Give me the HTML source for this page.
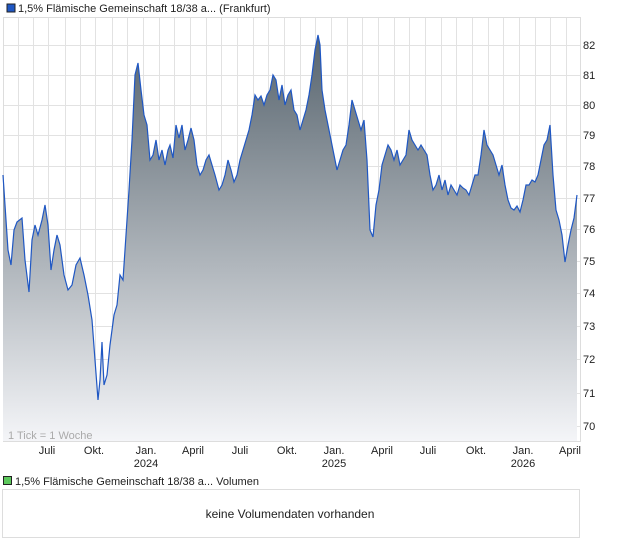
<!DOCTYPE html><html><head><meta charset="utf-8"><style>body{margin:0;background:#fff;font-family:"Liberation Sans",sans-serif}</style></head><body>
<svg width="620" height="546" xmlns="http://www.w3.org/2000/svg" font-family="Liberation Sans, sans-serif">
<defs><linearGradient id="g" x1="0" y1="0" x2="0" y2="1" gradientUnits="userSpaceOnUse" x1b="0"><stop offset="0" stop-color="#55626c"/><stop offset="1" stop-color="#f3f4f7"/></linearGradient>
<linearGradient id="g2" x1="0" y1="30" x2="0" y2="441" gradientUnits="userSpaceOnUse"><stop offset="0" stop-color="#55626c"/><stop offset="1" stop-color="#f4f5f8"/></linearGradient></defs>
<rect x="7" y="4" width="8" height="8" fill="#1f57c3" stroke="#222" stroke-width="1"/>
<text x="18" y="12" font-size="11" fill="#222">1,5% Flämische Gemeinschaft 18/38 a... (Frankfurt)</text>
<rect x="3.5" y="17.5" width="577" height="424" fill="#fff" stroke="#ddd"/>
<g stroke="#e2e2e2" stroke-width="1">
<line x1="18.5" y1="18" x2="18.5" y2="441"/><line x1="33.5" y1="18" x2="33.5" y2="441"/><line x1="48.5" y1="18" x2="48.5" y2="441"/><line x1="65.5" y1="18" x2="65.5" y2="441"/><line x1="80.5" y1="18" x2="80.5" y2="441"/><line x1="95.5" y1="18" x2="95.5" y2="441"/><line x1="112.5" y1="18" x2="112.5" y2="441"/><line x1="127.5" y1="18" x2="127.5" y2="441"/><line x1="143.5" y1="18" x2="143.5" y2="441"/><line x1="159.5" y1="18" x2="159.5" y2="441"/><line x1="174.5" y1="18" x2="174.5" y2="441"/><line x1="190.5" y1="18" x2="190.5" y2="441"/><line x1="206.5" y1="18" x2="206.5" y2="441"/><line x1="221.5" y1="18" x2="221.5" y2="441"/><line x1="237.5" y1="18" x2="237.5" y2="441"/><line x1="253.5" y1="18" x2="253.5" y2="441"/><line x1="268.5" y1="18" x2="268.5" y2="441"/><line x1="284.5" y1="18" x2="284.5" y2="441"/><line x1="300.5" y1="18" x2="300.5" y2="441"/><line x1="315.5" y1="18" x2="315.5" y2="441"/><line x1="331.5" y1="18" x2="331.5" y2="441"/><line x1="347.5" y1="18" x2="347.5" y2="441"/><line x1="362.5" y1="18" x2="362.5" y2="441"/><line x1="378.5" y1="18" x2="378.5" y2="441"/><line x1="394.5" y1="18" x2="394.5" y2="441"/><line x1="409.5" y1="18" x2="409.5" y2="441"/><line x1="425.5" y1="18" x2="425.5" y2="441"/><line x1="441.5" y1="18" x2="441.5" y2="441"/><line x1="456.5" y1="18" x2="456.5" y2="441"/><line x1="472.5" y1="18" x2="472.5" y2="441"/><line x1="488.5" y1="18" x2="488.5" y2="441"/><line x1="503.5" y1="18" x2="503.5" y2="441"/><line x1="519.5" y1="18" x2="519.5" y2="441"/><line x1="535.5" y1="18" x2="535.5" y2="441"/><line x1="550.5" y1="18" x2="550.5" y2="441"/><line x1="566.5" y1="18" x2="566.5" y2="441"/>
<line x1="4" y1="45.5" x2="580" y2="45.5"/><line x1="4" y1="75.5" x2="580" y2="75.5"/><line x1="4" y1="105.5" x2="580" y2="105.5"/><line x1="4" y1="135.5" x2="580" y2="135.5"/><line x1="4" y1="166.5" x2="580" y2="166.5"/><line x1="4" y1="198.5" x2="580" y2="198.5"/><line x1="4" y1="229.5" x2="580" y2="229.5"/><line x1="4" y1="261.5" x2="580" y2="261.5"/><line x1="4" y1="293.5" x2="580" y2="293.5"/><line x1="4" y1="326.5" x2="580" y2="326.5"/><line x1="4" y1="359.5" x2="580" y2="359.5"/><line x1="4" y1="393.5" x2="580" y2="393.5"/><line x1="4" y1="426.5" x2="580" y2="426.5"/>
</g>
<polygon fill="url(#g2)" points="3,441 3,175 8,250 11,265 14,230 17,222 22,218 25,260 29,292 32,240 35,225 38,235 42,220 45,205 48,225 51,270 54,250 57,235 60,245 64,275 68,290 72,285 76,265 80,258 84,275 88,295 92,320 95,360 98,400 100,380 102,342 104,385 107,375 110,345 114,315 117,305 120,275 123,280 126,235 129,190 132,140 135,75 138,63 141,90 144,115 147,125 150,160 153,155 156,140 159,160 162,150 165,165 168,150 170,145 173,158 176,125 179,138 182,125 185,150 188,140 191,128 194,140 197,165 200,175 203,170 206,160 209,155 212,165 215,175 219,190 222,185 225,175 228,160 231,170 234,182 237,175 240,160 243,150 246,140 249,130 252,115 255,95 258,100 261,96 264,105 267,95 270,90 273,75 276,80 279,100 282,85 285,105 288,95 291,90 294,110 297,115 300,130 303,120 306,110 309,95 312,75 315,50 318,35 320,45 322,90 325,110 328,125 331,140 334,155 337,170 340,160 343,150 346,145 349,125 352,100 355,110 358,120 361,130 364,120 367,160 370,230 373,237 376,205 379,190 382,165 385,155 388,145 391,150 394,160 397,150 400,165 403,160 406,155 409,130 412,140 415,145 418,150 421,145 424,150 427,155 430,175 433,190 436,185 439,175 442,190 445,180 448,195 451,185 454,190 457,195 460,185 463,188 466,190 469,195 472,185 475,175 478,175 481,155 484,130 487,145 490,150 493,155 496,165 499,175 502,165 505,185 508,200 511,208 514,210 517,206 520,212 523,200 526,185 529,185 532,180 535,182 538,175 541,160 544,145 547,140 550,125 553,175 556,210 559,220 562,235 565,262 568,245 571,230 574,218 577,195 577,441"/>
<polyline fill="none" stroke="#1f57c3" stroke-width="1.2" points="3,175 8,250 11,265 14,230 17,222 22,218 25,260 29,292 32,240 35,225 38,235 42,220 45,205 48,225 51,270 54,250 57,235 60,245 64,275 68,290 72,285 76,265 80,258 84,275 88,295 92,320 95,360 98,400 100,380 102,342 104,385 107,375 110,345 114,315 117,305 120,275 123,280 126,235 129,190 132,140 135,75 138,63 141,90 144,115 147,125 150,160 153,155 156,140 159,160 162,150 165,165 168,150 170,145 173,158 176,125 179,138 182,125 185,150 188,140 191,128 194,140 197,165 200,175 203,170 206,160 209,155 212,165 215,175 219,190 222,185 225,175 228,160 231,170 234,182 237,175 240,160 243,150 246,140 249,130 252,115 255,95 258,100 261,96 264,105 267,95 270,90 273,75 276,80 279,100 282,85 285,105 288,95 291,90 294,110 297,115 300,130 303,120 306,110 309,95 312,75 315,50 318,35 320,45 322,90 325,110 328,125 331,140 334,155 337,170 340,160 343,150 346,145 349,125 352,100 355,110 358,120 361,130 364,120 367,160 370,230 373,237 376,205 379,190 382,165 385,155 388,145 391,150 394,160 397,150 400,165 403,160 406,155 409,130 412,140 415,145 418,150 421,145 424,150 427,155 430,175 433,190 436,185 439,175 442,190 445,180 448,195 451,185 454,190 457,195 460,185 463,188 466,190 469,195 472,185 475,175 478,175 481,155 484,130 487,145 490,150 493,155 496,165 499,175 502,165 505,185 508,200 511,208 514,210 517,206 520,212 523,200 526,185 529,185 532,180 535,182 538,175 541,160 544,145 547,140 550,125 553,175 556,210 559,220 562,235 565,262 568,245 571,230 574,218 577,195"/>
<text x="8" y="439" font-size="11" fill="#aaa">1 Tick = 1 Woche</text>
<g font-size="11" fill="#222">
<text x="583" y="49">82</text><text x="583" y="79">81</text><text x="583" y="109">80</text><text x="583" y="139">79</text><text x="583" y="170">78</text><text x="583" y="202">77</text><text x="583" y="233">76</text><text x="583" y="265">75</text><text x="583" y="297">74</text><text x="583" y="330">73</text><text x="583" y="363">72</text><text x="583" y="397">71</text><text x="583" y="430">70</text>
</g>
<g font-size="11" fill="#222" text-anchor="middle">
<text x="47" y="454">Juli</text><text x="94" y="454">Okt.</text><text x="146" y="454">Jan.</text><text x="146" y="467">2024</text><text x="193" y="454">April</text><text x="240" y="454">Juli</text><text x="287" y="454">Okt.</text><text x="334" y="454">Jan.</text><text x="334" y="467">2025</text><text x="382" y="454">April</text><text x="428" y="454">Juli</text><text x="476" y="454">Okt.</text><text x="523" y="454">Jan.</text><text x="523" y="467">2026</text><text x="570" y="454">April</text>
</g>
<rect x="3.5" y="476.5" width="8" height="8" fill="#5cc85c" stroke="#222"/>
<text x="15" y="485" font-size="11" fill="#222">1,5% Flämische Gemeinschaft 18/38 a... Volumen</text>
<rect x="2.5" y="489.5" width="577" height="48" fill="#fff" stroke="#ddd"/>
<text x="290" y="518" font-size="12" fill="#222" text-anchor="middle">keine Volumendaten vorhanden</text>
</svg></body></html>
